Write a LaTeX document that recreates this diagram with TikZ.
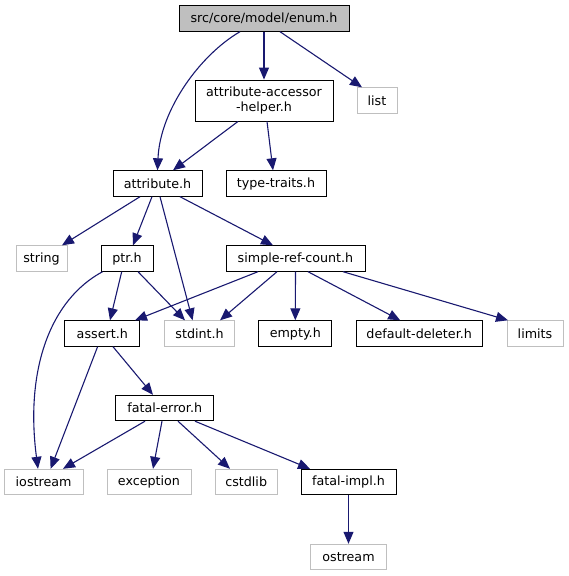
\documentclass[tikz,border=0pt]{standalone}
\usepackage{fontspec}
\setmainfont{DejaVu Sans}
\usetikzlibrary{arrows.meta}
\definecolor{edgeblue}{HTML}{191970}
\definecolor{extgrey}{HTML}{BFBFBF}
\tikzset{
  hdr/.style={draw=black,line width=0.9pt,fill=white,inner sep=0pt,
    minimum height=25.5pt,font=\fontsize{12.7}{14.3}\selectfont,align=center},
  ext/.style={hdr,draw=extgrey},
  edge/.style={edgeblue,line width=1.1pt,-{Triangle[length=12pt,width=10pt]}}
}
\begin{document}
\begin{tikzpicture}[x={(1pt,0)},y={(0,-1pt)}]
      \useasboundingbox (0,0) rectangle (568,576);
      \node[hdr,fill=extgrey,minimum width=170] at (264,18.5) (enum){src/core/model/enum.h};
      \node[hdr,minimum width=138,minimum height=41] at (264,100.5) (acc){attribute-accessor\\-helper.h};
      \foreach \n/\x/\y/\w/\t in {attr/157.5/183.5/89/attribute.h, tt/276/183.5/100/type-traits.h,
        ptr/127/258.5/52/ptr.h, src/295.5/258.5/139/simple-ref-count.h,
        assert/102.3/333.5/75/assert.h, empty/295.3/333.5/73/empty.h,
        dd/419.2/333.5/126.5/default-deleter.h, fatal/164.7/408/98/fatal-error.h,
        fimpl/348.5/482/95/fatal-impl.h}
       { \node[hdr,minimum width=\w] at (\x,\y) (\n){\t};}
      \foreach \n/\x/\y/\w/\t in {list/377/100.5/40/list, string/41.5/258.5/51/string,
        stdint/199.6/333.5/70/stdint.h, limits/535/333.5/56/limits,
        iostream/43.6/482/78.7/iostream, exception/149/482/84/exception,
        cstdlib/246.2/482/62.4/cstdlib, ostream/348.5/557/75.5/ostream}
       { \node[ext,minimum width=\w] at (\x,\y) (\n){\t};}
      % straight includes: from/shift/to/shift
      \foreach \a/\sa/\b/\sb in {enum/0/acc/0, enum/16/list/-15, acc/-26/attr/15.5, acc/3/tt/-3,
        attr/-17.5/string/20.5, attr/-5.5/ptr/6, attr/2.5/stdint/-7, attr/22.5/src/-22.5,
        ptr/-5.3/assert/7.7, ptr/11/stdint/-14.6,
        src/-37.5/assert/32.7, src/-18.5/stdint/20.4, src/0/empty/0, src/12.5/dd/-19, src/47.5/limits/-27,
        assert/10.7/fatal/-11.7, assert/-4.7/iostream/7,
        fatal/-19.7/iostream/19.4, fatal/-2.7/exception/4, fatal/13.3/cstdlib/-16.2, fatal/30.3/fimpl/-38.5,
        fimpl/0/ostream/0}
       { \draw[edge] ([xshift=\sa]\a.south) -- ([xshift=\sb]\b.north);}
      % curved ones
      \draw[edge] ([xshift=-24]enum.south) .. controls (200,55) and (160,110) .. (attr.north);
      \draw[edge] ([xshift=2]ptr.south west) .. controls (50,300) and (25,370) .. ([xshift=-5.6]iostream.north);
      \end{tikzpicture}
\end{document}
